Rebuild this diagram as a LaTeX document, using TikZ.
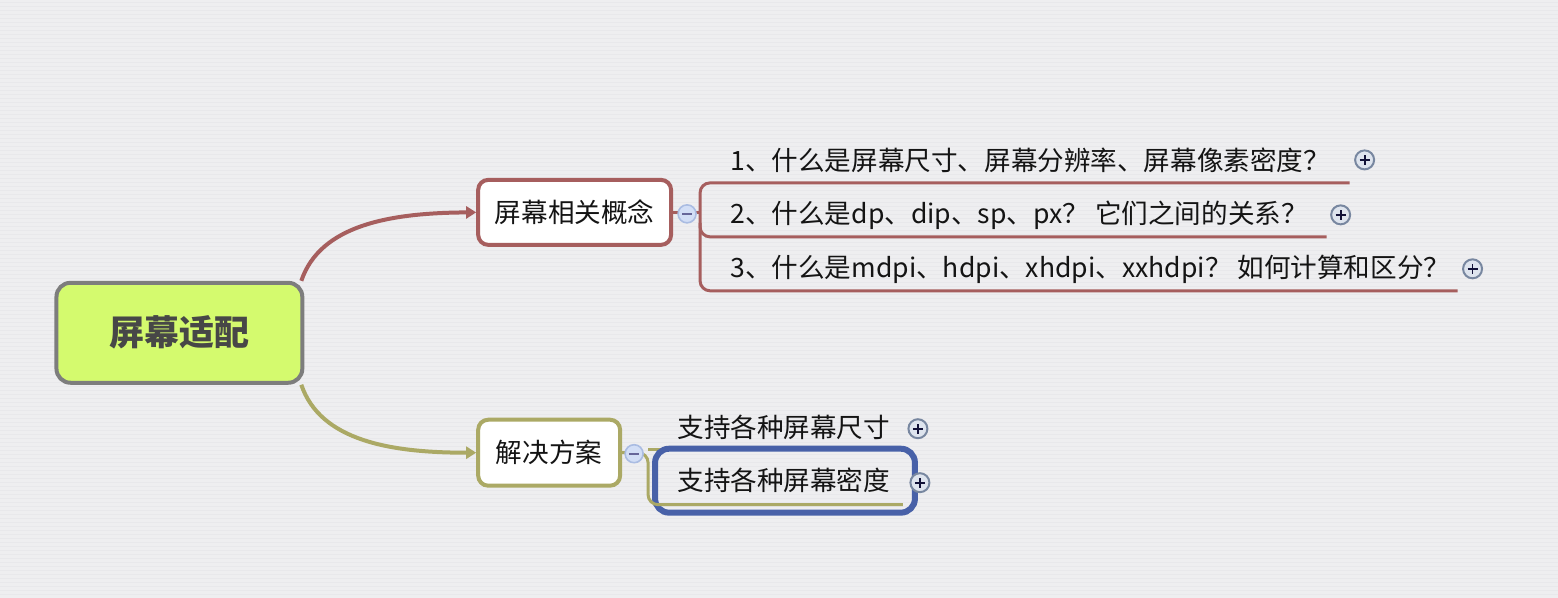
\documentclass[tikz,border=0pt]{standalone}
\usepackage{fontspec}
\setmainfont{Noto Sans CJK SC}
\usetikzlibrary{arrows.meta,calc}
\definecolor{paperbg}{RGB}{238,238,240}
\definecolor{paperline}{RGB}{232,232,235}
\definecolor{rootfill}{RGB}{212,250,110}
\definecolor{rootedge}{RGB}{125,125,125}
\definecolor{conceptred}{RGB}{166,94,94}
\definecolor{planolive}{RGB}{171,169,101}
\definecolor{selblue}{RGB}{72,97,168}
\definecolor{inkdark}{RGB}{20,20,20}
\definecolor{btnfill}{RGB}{222,228,238}
\definecolor{btnedge}{RGB}{120,135,160}
\definecolor{foldfill}{RGB}{210,222,246}
\definecolor{foldedge}{RGB}{170,188,226}

\begin{document}
\begin{tikzpicture}[x=0.5pt,y=-0.5pt,
  topic/.style={draw, rounded corners=5pt, line width=2pt, fill=white, text=inkdark,
    font=\fontsize{13.3}{15}\selectfont, inner sep=0pt},
  leaf/.style={text=inkdark, font=\fontsize{13.3}{15}\selectfont, inner sep=0pt, anchor=west},
  link/.style={line width=2pt, -{Triangle[length=5pt,width=6pt]}},
  expander/.style={circle, draw=btnedge, fill=btnfill, line width=1pt, minimum size=9.5pt, inner sep=0pt,
    path picture={\draw[line width=0.9pt, inkdark!85!blue]
      ([xshift=-2.5pt]path picture bounding box.center) -- ([xshift=2.5pt]path picture bounding box.center)
      ([yshift=-2.5pt]path picture bounding box.center) -- ([yshift=2.5pt]path picture bounding box.center);}},
  folder/.style={circle, draw=foldedge, fill=foldfill, line width=0.8pt, minimum size=9pt, inner sep=0pt,
    path picture={\draw[line width=0.8pt, gray!80!blue]
      ([xshift=-2.5pt]path picture bounding box.center) -- ([xshift=2.5pt]path picture bounding box.center);}}]
  % paper
  \fill[paperbg] (0,0) rectangle (1558,598);
  \foreach \y in {3,7,...,598}
    \draw[paperline, line width=0.5pt] (0,\y) -- (1558,\y);
  \useasboundingbox (0,0) rectangle (1558,598);

  % central topic
  \node[draw=rootedge, fill=rootfill, rounded corners=7pt, line width=2pt,
    minimum width=123pt, minimum height=50pt, text=black!72,
    font=\fontsize{17.5}{20}\selectfont\bfseries] (root) at (179,333) {屏幕适配};

  % main topics
  \node[topic, draw=conceptred, minimum width=96.5pt, minimum height=32.5pt] (c1) at (574.5,212.5) {屏幕相关概念};
  \node[topic, draw=planolive, minimum width=71pt, minimum height=33pt] (c2) at (549,453) {解决方案};

  \draw[link, conceptred] ([xshift=-1.5pt]root.north east)
    .. controls (320,225) and (390,213) .. (c1.west);
  \draw[link, planolive] ([xshift=-1.5pt]root.south east)
    .. controls (320,441) and (390,453) .. (c2.west);

  % concepts
  \node[leaf] (q1) at (730,160) {1、什么是屏幕尺寸、屏幕分辨率、屏幕像素密度？};
  \node[leaf] (q2) at (730,215) {2、什么是dp、dip、sp、px？ 它们之间的关系？};
  \node[leaf] (q3) at (730,269) {3、什么是mdpi、hdpi、xhdpi、xxhdpi？ 如何计算和区分？};
  \coordinate (q1a) at (700,183); \coordinate (q1b) at (1350,183);
  \coordinate (q2a) at (700,237); \coordinate (q2b) at (1327,237);
  \coordinate (q3a) at (700,291); \coordinate (q3b) at (1458,291);
  \draw[conceptred, line width=1.5pt] (c1.east) -- (c1.east -| q1a);
  \draw[conceptred, line width=1.5pt, rounded corners=5pt] (q1b) -- (q1a) -- (q3a) -- (q3b);
  \draw[conceptred, line width=1.5pt, rounded corners=5pt] ($(q2a)+(0,-14)$) |- (q2b);
  \node[folder] (f1) at (687,214) {};
  \node[expander] (q1x) at (1365,160) {};
  \node[expander] (q2x) at (1341,215) {};
  \node[expander] (q3x) at (1473,269) {};

  % solutions
  \node[leaf] (s1) at (677,428) {支持各种屏幕尺寸};
  \node[leaf] (s2) at (677,481) {支持各种屏幕密度};
  \coordinate (s1a) at (648,450); \coordinate (s1b) at (905,450);
  \coordinate (s2a) at (648,505); \coordinate (s2b) at (903,505);
  \draw[planolive, line width=1.5pt] (s1a) -- (s1b);
  \draw[selblue, line width=3pt, rounded corners=7pt] (655,449) rectangle (915,513);
  \draw[planolive, line width=1.5pt, rounded corners=5pt] (c2.east) -- ($(s1a)+(0,3)$) -- (s2a) -- (s2b);
  \node[folder] (f2) at (634,454) {};
  \node[expander] (s1x) at (918,429) {};
  \node[expander] (s2x) at (920,483) {};
\end{tikzpicture}
\end{document}
